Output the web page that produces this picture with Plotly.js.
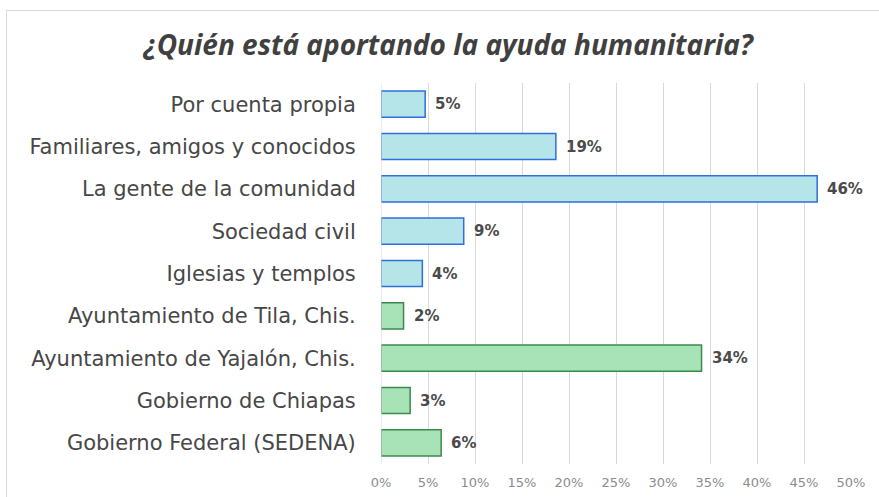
<!DOCTYPE html>
<html>
<head>
<meta charset="utf-8">
<script src="https://cdn.plot.ly/plotly-3.0.1.min.js"></script>
<style>
body{margin:0;padding:0;background:#fff;}
#frame{position:absolute;left:6px;top:10px;width:900px;height:520px;border:1px solid #d9d9d9;pointer-events:none;}
#chart{position:absolute;left:0;top:0;}
</style>
</head>
<body>
<div id="chart"></div>
<div id="frame"></div>
<script>
var categories = ['Por cuenta propia','Familiares, amigos y conocidos','La gente de la comunidad','Sociedad civil','Iglesias y templos','Ayuntamiento de Tila, Chis.','Ayuntamiento de Yajalón, Chis.','Gobierno de Chiapas','Gobierno Federal (SEDENA)'];
var values = [4.7, 18.6, 46.4, 8.8, 4.4, 2.4, 34.1, 3.1, 6.4];
// 0 = no gubernamental, 1 = gobierno
var groups = [0,0,0,0,0,1,1,1,1];
var tickValues = [0,5,10,15,20,25,30,35,40,45,50];
var tickLabels = ['0%','5%','10%','15%','20%','25%','30%','35%','40%','45%','50%'];

function main(){
	var fill = ['#b5e4e9','#a8e3b7'];
	var edge = ['#2f6fd8','#3b8a4c'];

	var data = [{
	  type:'bar',
	  orientation:'h',
	  y: categories,
	  x: values,
	  marker:{
	  	color: groups.map(function(g){ return fill[g]; }),
	  	line:{color: groups.map(function(g){ return edge[g]; }), width:1.5}
	  },
	  hoverinfo:'none'
	}];

	// etiquetas de valor a la derecha de cada barra
	var labels = values.map(function(v, i){
		return {
		  x: v, y: categories[i], xref:'x', yref:'y',
		  text: '<b>' + Math.round(v) + '%</b>',
		  showarrow:false,
		  xanchor:'left',
		  xshift:8,
		  font:{family:'DejaVu Sans', size:15, color:'#4a4a4a'}
		};
	});

	var layout = {
	  width:879,
	  height:497,
	  margin:{l:381, r:28, t:83, b:33},
	  paper_bgcolor:'rgba(0,0,0,0)',
	  plot_bgcolor:'rgba(0,0,0,0)',
	  bargap:0.38,
	  showlegend:false,
	  title:{
	    text:'<b><i>¿Quién está aportando la ayuda humanitaria?</i></b>',
	    font:{family:'Open Sans', size:28, color:'#404040'},
	    x:0.51, xref:'container', xanchor:'center',
	    y:0.91, yref:'container', yanchor:'middle'
	  },
	  xaxis:{
	    range:[0,50],
	    tickvals:tickValues,
	    ticktext:tickLabels,
	    tickfont:{family:'DejaVu Sans', size:13, color:'#8c8c8c'},
	    showgrid:true,
	    gridcolor:'#d9d9d9',
	    gridwidth:1,
	    zeroline:false,
	    showline:false,
	    ticks:'outside',
	    ticklen:6,
	    tickcolor:'rgba(0,0,0,0)',
	    fixedrange:true
	  },
	  yaxis:{
	    autorange:'reversed',
	    tickfont:{family:'DejaVu Sans', size:21, color:'#474747'},
	    ticks:'outside',
	    ticklen:20,
	    tickcolor:'rgba(0,0,0,0)',
	    showline:false,
	    showgrid:false,
	    automargin:false,
	    fixedrange:true
	  },
	  annotations: labels,
	  shapes:[{
	    type:'line', xref:'x', yref:'paper',
	    x0:0, x1:0, y0:0, y1:1,
	    line:{color:'#d9d9d9', width:1}
	  }]
	};

	Plotly.newPlot('chart', data, layout, {staticPlot:true, displayModeBar:false});
}
main();
</script>
</body>
</html>
